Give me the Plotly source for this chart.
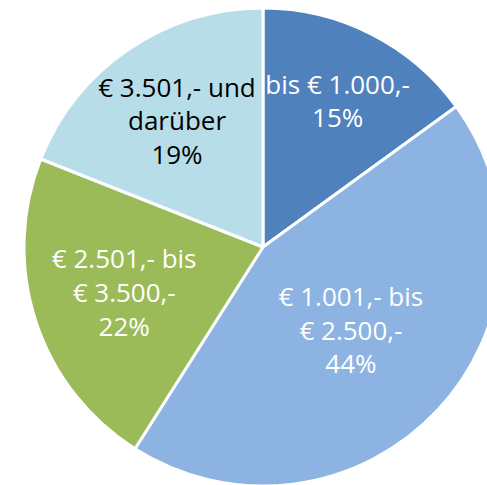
import plotly.graph_objects as go

categories = ["bis € 1.000,-", "€ 1.001,- bis<br>€ 2.500,-", "€ 2.501,- bis<br>€ 3.500,-", "€ 3.501,- und<br>darüber"]
values = [15, 44, 22, 19]
colors = ["#4F81BD", "#8DB3E2", "#9BBB59", "#B7DEE8"]
text_colors = ["white", "white", "white", "black"]

fig = go.Figure(go.Pie(
    labels=categories,
    values=values,
    sort=False,
    direction="clockwise",
    rotation=0,
    marker=dict(colors=colors, line=dict(color="white", width=3)),
    texttemplate="%{label}<br>%{percent:.0%}",
    textposition="inside",
    insidetextorientation="horizontal",
    textfont=dict(family="Open Sans", size=26, color=text_colors),
    hoverinfo="skip",
    showlegend=False,
))
fig.update_layout(
    width=526, height=494,
    margin=dict(l=0, r=0, t=8, b=8),
    paper_bgcolor="white",
    uniformtext=dict(minsize=26, mode="show"),
)
fig.write_html("out.html", config={"displayModeBar": False},
               post_script="document.body.style.margin='0';document.body.style.overflow='hidden';")
